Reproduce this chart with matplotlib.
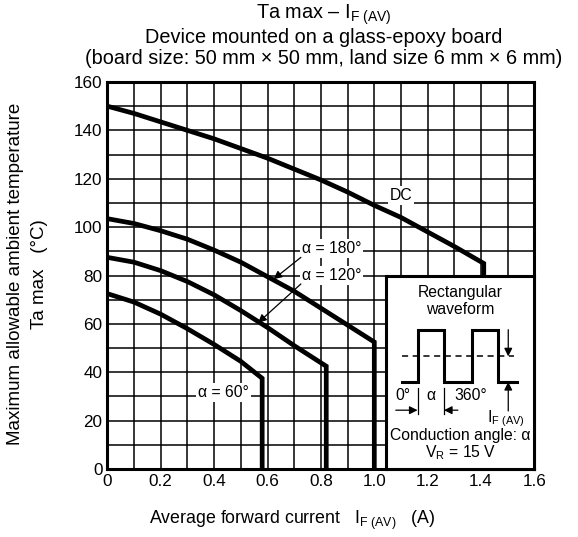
import matplotlib
matplotlib.use('Agg')
import matplotlib.pyplot as plt
from matplotlib.ticker import MultipleLocator

plt.rcParams['font.family'] = ['Liberation Sans', 'DejaVu Sans']
plt.rcParams['mathtext.fontset'] = 'custom'
plt.rcParams['mathtext.rm'] = 'Liberation Sans'
plt.rcParams['mathtext.it'] = 'Liberation Sans:italic'

# curve data
dc_x = [0, 0.1, 0.2, 0.3, 0.4, 0.5, 0.6, 0.7, 0.8, 0.9, 1.0, 1.1, 1.2, 1.3, 1.41, 1.41]
dc_y = [150, 147, 143.5, 140, 136.5, 132.5, 128.5, 124, 119.5, 114.5, 109, 104, 98, 92, 85, 0]

a180_x = [0, 0.1, 0.2, 0.3, 0.4, 0.5, 0.6, 0.7, 0.8, 0.9, 1.0, 1.0]
a180_y = [103.5, 101.5, 98.5, 95, 90.5, 85.5, 79.5, 73.5, 66.5, 59.5, 52.5, 0]

a120_x = [0, 0.1, 0.2, 0.3, 0.4, 0.5, 0.6, 0.7, 0.82, 0.82]
a120_y = [87.5, 85.5, 82, 77.5, 72, 65.5, 58.5, 51, 42.5, 0]

a60_x = [0, 0.1, 0.2, 0.3, 0.4, 0.5, 0.58, 0.58]
a60_y = [72.5, 69, 64, 58, 51.5, 44.5, 37.5, 0]

x_ticks = [0, 0.2, 0.4, 0.6, 0.8, 1.0, 1.2, 1.4, 1.6]
x_ticklabels = ['0', '0.2', '0.4', '0.6', '0.8', '1.0', '1.2', '1.4', '1.6']
y_ticks = [0, 20, 40, 60, 80, 100, 120, 140, 160]

IF = r'I$_{\mathrm{F\ (AV)}}$'


def main():
    fig = plt.figure(figsize=(5.78, 5.37), dpi=100)
    ax = fig.add_axes([0.1857, 0.1266, 0.739, 0.7207])

    ax.set_xlim(0, 1.6)
    ax.set_ylim(0, 160)
    ax.set_xticks(x_ticks)
    ax.set_xticklabels(x_ticklabels)
    ax.set_yticks(y_ticks)
    ax.xaxis.set_minor_locator(MultipleLocator(0.1))
    ax.yaxis.set_minor_locator(MultipleLocator(10))
    ax.tick_params(which='both', length=0, labelsize=12.3, pad=3.5)
    ax.grid(which='both', color='black', linewidth=1.1)
    ax.set_axisbelow(True)
    for sp in ax.spines.values():
        sp.set_linewidth(2.2)

    for xs, ys in [(dc_x, dc_y), (a180_x, a180_y), (a120_x, a120_y), (a60_x, a60_y)]:
        ax.plot(xs, ys, color='black', linewidth=3.4, solid_joinstyle='miter', zorder=3)

    fs = 11.3
    box = dict(facecolor='white', edgecolor='none', pad=1.5)
    ax.text(1.10, 113, 'DC', fontsize=fs, ha='center', va='center', bbox=box, zorder=4)
    ax.text(0.84, 91, 'α = 180°', fontsize=fs, ha='center', va='center', bbox=box, zorder=4)
    ax.text(0.84, 80, 'α = 120°', fontsize=fs, ha='center', va='center', bbox=box, zorder=4)
    ax.text(0.435, 31.5, 'α = 60°', fontsize=fs, ha='center', va='center', bbox=box, zorder=4)
    arrow = dict(arrowstyle='-|>', color='black', lw=0.9, mutation_scale=12, shrinkA=0, shrinkB=0)
    ax.annotate('', xy=(0.623, 78.5), xytext=(0.725, 87.5), arrowprops=arrow, zorder=5)
    ax.annotate('', xy=(0.565, 60.5), xytext=(0.725, 76.5), arrowprops=arrow, zorder=5)

    # inset with waveform sketch
    ins = ax.inset_axes([1.045, 0, 0.555, 80], transform=ax.transData, zorder=6)
    ins.set_xlim(0, 1)
    ins.set_ylim(0, 1)
    ins.set_xticks([])
    ins.set_yticks([])
    for sp in ins.spines.values():
        sp.set_linewidth(2.2)
    ins.text(0.5, 0.91, 'Rectangular', fontsize=fs, ha='center', va='center')
    ins.text(0.5, 0.825, 'waveform', fontsize=fs, ha='center', va='center')
    wx = [0.103, 0.211, 0.211, 0.389, 0.389, 0.576, 0.576, 0.751, 0.751, 0.853]
    wy = [0.45, 0.45, 0.72, 0.72, 0.45, 0.45, 0.72, 0.72, 0.45, 0.45]
    ins.plot(wx, wy, color='black', linewidth=2.2, solid_joinstyle='miter')
    ins.plot([0.103, 0.86], [0.582, 0.582], color='black', linewidth=1.1, linestyle=(0, (4, 3)))
    ins.plot([0.211, 0.211], [0.284, 0.418], color='black', linewidth=0.9)
    ins.plot([0.389, 0.389], [0.284, 0.418], color='black', linewidth=0.9)
    ins.plot([0.79, 0.88], [0.45, 0.45], color='black', linewidth=2.2)
    small = dict(arrowstyle='-|>', color='black', lw=0.9, mutation_scale=12, shrinkA=0, shrinkB=0)
    ins.annotate('', xy=(0.823, 0.582), xytext=(0.823, 0.72), arrowprops=small)
    ins.annotate('', xy=(0.823, 0.45), xytext=(0.823, 0.30), arrowprops=small)
    ins.annotate('', xy=(0.211, 0.304), xytext=(0.064, 0.304), arrowprops=small)
    ins.annotate('', xy=(0.389, 0.304), xytext=(0.483, 0.304), arrowprops=small)
    ins.text(0.111, 0.381, '0°', fontsize=fs, ha='center', va='center')
    ins.text(0.30, 0.381, 'α', fontsize=fs, ha='center', va='center')
    ins.text(0.57, 0.381, '360°', fontsize=fs, ha='center', va='center')
    ins.text(0.81, 0.26, IF, fontsize=fs, ha='center', va='center')
    ins.text(0.5, 0.175, 'Conduction angle: α', fontsize=fs, ha='center', va='center')
    ins.text(0.5, 0.084, r'V$_{\mathrm{R}}$ = 15 V', fontsize=fs, ha='center', va='center')

    # titles and axis labels
    tfs = 14.3
    fig.text(0.56, 0.972, 'Ta max – ' + IF, fontsize=tfs, ha='center', va='center')
    fig.text(0.56, 0.931, 'Device mounted on a glass-epoxy board', fontsize=tfs, ha='center', va='center')
    fig.text(0.56, 0.891, '(board size: 50 mm × 50 mm, land size 6 mm × 6 mm)', fontsize=tfs,
             ha='center', va='center')
    fig.text(0.505, 0.03, 'Average forward current   ' + IF + '   (A)', fontsize=12.8,
             ha='center', va='center')
    fig.text(0.027, 0.49, 'Maximum allowable ambient temperature', fontsize=13.5, rotation=90,
             ha='center', va='center')
    fig.text(0.068, 0.49, 'Ta max   (°C)', fontsize=13.5, rotation=90, ha='center', va='center')

    plt.savefig('out.png', dpi=100)
    plt.close()


if __name__ == '__main__':
    main()
